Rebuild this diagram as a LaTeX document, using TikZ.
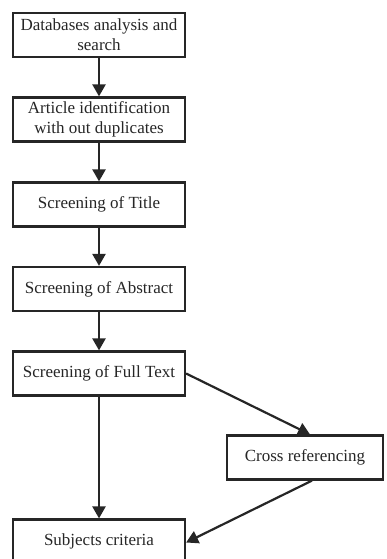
\documentclass[tikz,border=0pt]{standalone}
\usepackage{fontspec}
\setmainfont{Liberation Serif}
\usetikzlibrary{arrows.meta}
\begin{document}
\begin{tikzpicture}[x=1pt,y=-1pt,
  box/.style={draw=black!85,line width=2.2pt,minimum width=172pt,minimum height=44pt,
    align=center,inner sep=1pt,font=\fontsize{17}{20}\selectfont,text=black!85},
  arr/.style={draw=black!85,line width=2.2pt,-{Triangle[length=12pt,width=13pt]}}]
\useasboundingbox (0,0) rectangle (386,559);
\node[box] (a) at (99,35) {Databases analysis and\\search};
\node[box] (b) at (99,119.5) {Article identification\\with out duplicates};
\node[box] (c) at (99,204.5) {Screening of Title};
\node[box] (d) at (99,289) {Screening of Abstract};
\node[box] (e) at (99,373.5) {Screening of Full Text};
\node[box,minimum width=156pt] (f) at (305,457.5) {Cross referencing};
\node[box] (g) at (99,541.5) {Subjects criteria};
\draw[arr] (a) -- (b);
\draw[arr] (b) -- (c);
\draw[arr] (c) -- (d);
\draw[arr] (d) -- (e);
\draw[arr] (e) -- (g);
\draw[arr] (e.east) -- ([xshift=5pt]f.north);
\draw[arr] ([xshift=7pt]f.south) -- ([yshift=-1pt]g.east);
\end{tikzpicture}
\end{document}
